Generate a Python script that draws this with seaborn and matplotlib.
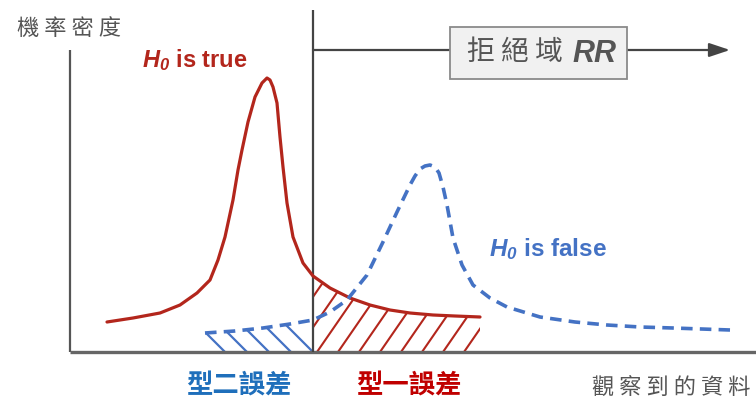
import numpy as np
import pandas as pd
import matplotlib
matplotlib.use("Agg")
import matplotlib.pyplot as plt
from matplotlib.patches import Rectangle
import seaborn as sns

# ---------------- data ----------------
# H0 true density (red solid)
h0_true_x = [3.7, 6.3, 9.0, 11.0, 12.7, 14.0, 14.8, 15.5, 16.3, 16.8, 17.2, 17.8, 18.5,
             19.2, 19.7, 20.0, 20.3, 20.7, 21.0, 21.3, 21.7, 22.3, 23.3, 24.3, 26.0,
             28.0, 30.0, 32.0, 34.0, 36.3, 38.5, 41.0]
h0_true_y = [0.30, 0.34, 0.39, 0.47, 0.59, 0.72, 0.92, 1.15, 1.52, 1.82, 2.02, 2.30, 2.55,
             2.69, 2.74, 2.72, 2.65, 2.49, 2.15, 1.85, 1.49, 1.15, 0.89, 0.76, 0.64,
             0.54, 0.47, 0.42, 0.39, 0.37, 0.36, 0.35]
# H0 false density (blue dashed)
h0_false_x = [13.5, 16.5, 19.3, 22.0, 24.3, 26.0, 27.7, 29.7, 31.3, 32.7, 34.0, 34.5, 35.0,
              35.5, 36.0, 36.5, 36.9, 37.3, 37.7, 38.3, 39.2, 40.3, 42.0, 43.7, 47.0,
              50.5, 53.7, 57.0, 60.3, 66.0]
h0_false_y = [0.19, 0.21, 0.24, 0.28, 0.32, 0.40, 0.52, 0.77, 1.10, 1.40, 1.67, 1.76, 1.83,
              1.86, 1.87, 1.85, 1.79, 1.65, 1.47, 1.14, 0.87, 0.67, 0.54, 0.45, 0.35,
              0.30, 0.27, 0.25, 0.24, 0.22]
critical_value = 24.3

# texts
y_label = "機 率 密 度"
x_label = "觀 察 到 的 資 料"
rr_label = "拒 絕 域"
rr_symbol = "RR"
true_label = r"$H_0$ is true"
false_label = r"$H_0$ is false"
type2_label = "型二誤差"
type1_label = "型一誤差"

# ---------------- styling ----------------
sns.set_style("white")
plt.rcParams["font.family"] = ["Noto Sans CJK TC", "DejaVu Sans"]
plt.rcParams["mathtext.fontset"] = "custom"
plt.rcParams["mathtext.it"] = "Liberation Sans:italic:bold"
plt.rcParams["mathtext.rm"] = "Liberation Sans:italic:bold"
plt.rcParams["mathtext.bf"] = "Liberation Sans:italic:bold"

RED = "#b3261c"
RED_TXT = "#c00000"
BLUE = "#4472c4"
BLUE_TXT = "#1f6fbb"
GRAY = "#555555"

fig = plt.figure(figsize=(7.56, 4.03), dpi=100)
ax = fig.add_axes([0, 0, 1, 1])
ax.set_xlim(-7.0, 68.6)
ax.set_ylim(-0.51, 3.52)
ax.set_axis_off()

df_true = pd.DataFrame({"x": h0_true_x, "y": h0_true_y})
df_false = pd.DataFrame({"x": h0_false_x, "y": h0_false_y})

# ---------------- hatched error regions ----------------
xt = np.array(h0_true_x); yt = np.array(h0_true_y)
xf = np.array(h0_false_x); yf = np.array(h0_false_y)
m1 = xt >= critical_value
m2 = xf <= critical_value
reg1 = ax.fill_between(xt[m1], yt[m1], 0, facecolor="none", edgecolor="none")
reg2 = ax.fill_between(xf[m2], yf[m2], 0, facecolor="none", edgecolor="none")
path1 = reg1.get_paths()[0]
path2 = reg2.get_paths()[0]

slope_r = 0.145   # data units per x unit
for b in np.arange(critical_value + 0.4 - 2.1 * 4, xt[m1].max() + 1, 2.1):
    ln, = ax.plot([b, b + 3.0 / slope_r], [0, 3.0], color=RED, lw=1.5, zorder=2)
    ln.set_clip_path(path1, ax.transData)

slope_b = 0.1
for b in np.arange(critical_value, xf[m2].min() - 1, -2.2):
    ln, = ax.plot([b, b - 1.0 / slope_b], [0, 1.0], color=BLUE, lw=1.6, zorder=2)
    ln.set_clip_path(path2, ax.transData)

# ---------------- curves ----------------
sns.lineplot(data=df_true, x="x", y="y", sort=False, estimator=None, ax=ax,
             color=RED, lw=2.3, zorder=4)
ax.lines[-1].set_solid_joinstyle("round")
sns.lineplot(data=df_false, x="x", y="y", sort=False, estimator=None, ax=ax,
             color=BLUE, lw=2.6, zorder=4, dashes=False)
ax.lines[-1].set_dashes([3.2, 2.0])

# ---------------- axes and critical line ----------------
ax.plot([0, 0], [0, 3.02], color=GRAY, lw=1.6, zorder=3, solid_capstyle="butt")
ax.plot([0, 68.6], [0, 0], color="#666666", lw=2.4, zorder=3, solid_capstyle="butt")
ax.plot([critical_value, critical_value], [0, 3.42], color="#444444", lw=1.6, zorder=3,
        solid_capstyle="butt")
ax.annotate("", xy=(66.0, 3.02), xytext=(critical_value, 3.02),
            arrowprops=dict(arrowstyle="-|>,head_length=0.9,head_width=0.3",
                            color="#444444", lw=1.6, shrinkA=0, shrinkB=0,
                            mutation_scale=14), zorder=3)

# rejection region box
ax.add_patch(Rectangle((38.0, 2.73), 17.7, 0.52, facecolor="#f1f1f1",
                       edgecolor="#8a8a8a", lw=1.3, zorder=5))
ax.text(39.7, 3.0, rr_label, ha="left", va="center", fontsize=20, color=GRAY, zorder=6)
ax.text(50.2, 2.985, rr_symbol, ha="left", va="center", fontsize=22, color=GRAY,
        family="Liberation Sans", weight="bold", style="italic", zorder=6)

# ---------------- labels ----------------
ax.text(-0.1, 3.24, y_label, ha="center", va="center", fontsize=16, color=GRAY)
ax.text(60.1, -0.36, x_label, ha="center", va="center", fontsize=16, color=GRAY)
ax.text(12.5, 2.92, true_label, ha="center", va="center", fontsize=17, color=RED,
        family="Liberation Sans", weight="bold")
ax.text(47.8, 1.03, false_label, ha="center", va="center", fontsize=17.5, color=BLUE,
        family="Liberation Sans", weight="bold")
ax.text(16.9, -0.33, type2_label, ha="center", va="center", fontsize=19, color=BLUE_TXT,
        weight="bold")
ax.text(33.9, -0.33, type1_label, ha="center", va="center", fontsize=19, color=RED_TXT,
        weight="bold")

fig.savefig("out.png", dpi=100, facecolor="white")
